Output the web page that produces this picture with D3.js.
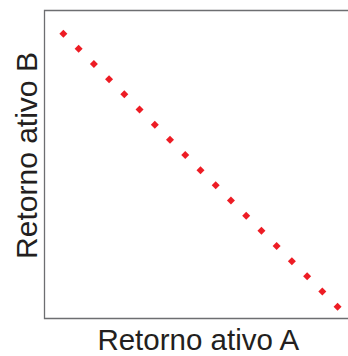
<!DOCTYPE html>
<html>
<head>
<meta charset="utf-8">
<script src="https://cdn.jsdelivr.net/npm/d3@7"></script>
<style>
  html, body { margin: 0; padding: 0; background: #fff; }
  svg { display: block; }
</style>
</head>
<body>
<svg id="chart" width="348" height="356"></svg>
<script>
// Active return of asset A vs asset B (perfectly negatively related)
const returnA = [1, 2, 3, 4, 5, 6, 7, 8, 9, 10, 11, 12, 13, 14, 15, 16, 17, 18, 19];
const returnB = [19, 18, 17, 16, 15, 14, 13, 12, 11, 10, 9, 8, 7, 6, 5, 4, 3, 2, 1];
const xTitle = "Retorno ativo A";
const yTitle = "Retorno ativo B";

const svg = d3.select("#chart");
const W = 348, H = 356;
const plot = { left: 44.5, top: 10.5, right: 349, bottom: 318.5 };

const x = d3.scaleLinear().domain([-0.24, 19.75]).range([plot.left, plot.right]);
const y = d3.scaleLinear().domain([0.22, 20.53]).range([plot.bottom, plot.top]);

// frame: top, left and bottom edges
const frame = d3.path();
frame.moveTo(plot.right, plot.top);
frame.lineTo(plot.left, plot.top);
frame.lineTo(plot.left, plot.bottom);
frame.lineTo(plot.right, plot.bottom);
svg.append("path")
  .attr("d", frame.toString())
  .attr("fill", "none")
  .attr("stroke", "#6d6e71")
  .attr("stroke-width", 1.3);

// points as small diamonds
const sym = d3.symbol().type(d3.symbolSquare).size(32);
svg.append("g")
  .selectAll("path")
  .data(returnA.map((a, i) => ({ a, b: returnB[i] })))
  .join("path")
  .attr("d", sym)
  .attr("transform", d => `translate(${x(d.a)},${y(d.b)}) rotate(45)`)
  .attr("fill", "#ed1c24");

// axis titles
svg.append("text")
  .attr("x", (plot.left + W) / 2 + 2)
  .attr("y", 349.5)
  .attr("text-anchor", "middle")
  .attr("font-family", "Liberation Sans, Arial, sans-serif")
  .attr("font-size", 29.5)
  .attr("fill", "#231f20")
  .text(xTitle);

svg.append("text")
  .attr("transform", "translate(37,155.5) rotate(-90)")
  .attr("text-anchor", "middle")
  .attr("font-family", "Liberation Sans, Arial, sans-serif")
  .attr("font-size", 30)
  .attr("fill", "#231f20")
  .text(yTitle);
</script>
</body>
</html>
